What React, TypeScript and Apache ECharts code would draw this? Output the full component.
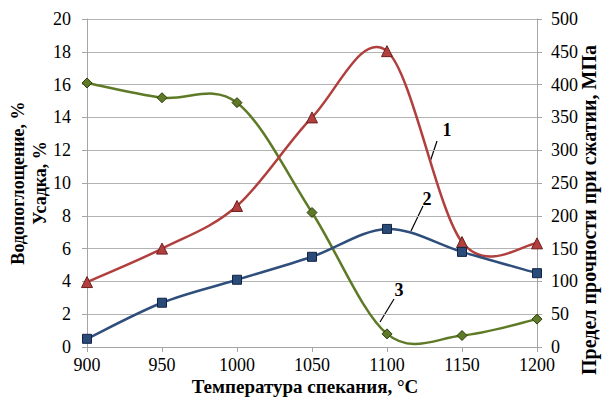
import React, { useEffect, useRef } from "react";
import * as echarts from "echarts";

const temperatures = [900, 950, 1000, 1050, 1100, 1150, 1200];
const strength = [99, 150, 215, 350, 451, 160, 158]; // MPa, right axis (1)
const shrinkage = [0.5, 2.7, 4.1, 5.5, 7.2, 5.8, 4.5]; // %, left axis (2)
const waterAbsorption = [16.1, 15.2, 14.9, 8.2, 0.8, 0.7, 1.7]; // %, left axis (3)

const FONT = "'Liberation Serif', 'Times New Roman', serif";

function smoothSeries(values: number[], yAxisIndex: number, color: string) {
  return {
    type: "custom",
    yAxisIndex,
    silent: true,
    z: 2,
    data: temperatures.map((t, i) => [t, values[i]]),
    renderItem: (params: any, api: any) => {
      const i = params.dataIndex;
      if (i >= temperatures.length - 1) return null;
      const p = (k: number) => {
        const kk = Math.max(0, Math.min(temperatures.length - 1, k));
        return api.coord([temperatures[kk], values[kk]]);
      };
      const p0 = p(i - 1), p1 = p(i), p2 = p(i + 1), p3 = p(i + 2);
      const f = 1 / 6;
      const c1 = [p1[0] + (p2[0] - p0[0]) * f, p1[1] + (p2[1] - p0[1]) * f];
      const c2 = [p2[0] - (p3[0] - p1[0]) * f, p2[1] - (p3[1] - p1[1]) * f];
      return {
        type: "path",
        shape: {
          pathData: `M${p1[0]} ${p1[1]} C${c1[0]} ${c1[1]} ${c2[0]} ${c2[1]} ${p2[0]} ${p2[1]}`,
        },
        style: { fill: "none", stroke: color, lineWidth: 2.5 },
      };
    },
  };
}

export default function App() {
  const ref = useRef<HTMLDivElement>(null);
  useEffect(() => {
    if (!ref.current) return;
    const chart = echarts.init(ref.current, null, { renderer: "svg" });
    const axisLine = { show: true, lineStyle: { color: "#a6a6a6", width: 1 } };
    const axisTick = { show: true, inside: false, length: 5, lineStyle: { color: "#a6a6a6" } };
    const tickLabel = { color: "#000", fontFamily: FONT, fontSize: 18 };
    const nameStyle = { color: "#000", fontFamily: FONT, fontSize: 20, fontWeight: "bold" as const };
    chart.setOption({
      animation: false,
      backgroundColor: "#fff",
      textStyle: { fontFamily: FONT },
      grid: { left: 87, right: 66, top: 19, bottom: 51, containLabel: false, outerBoundsMode: "none" },
      xAxis: {
        type: "value",
        min: 900,
        max: 1200,
        interval: 50,
        axisLine,
        axisTick,
        splitLine: { show: false },
        axisLabel: { ...tickLabel, lineHeight: 18, margin: 9, formatter: (v: number) => String(v) },
        name: "Температура спекания, °С",
        nameLocation: "middle",
        nameGap: 30,
        nameMoveOverlap: false,
        nameTextStyle: { ...nameStyle, fontSize: 19, lineHeight: 19, padding: [0, 14, 0, 0] },
      },
      yAxis: [
        {
          type: "value",
          min: 0,
          max: 20,
          interval: 2,
          axisLine,
          axisTick,
          splitLine: { show: true, lineStyle: { color: "#b3b3b3", width: 1 } },
          axisLabel: { ...tickLabel, margin: 16 },
          name: "Водопоглощение, %\nУсадка, %",
          nameLocation: "middle",
          nameGap: 36,
          nameMoveOverlap: false,
          nameTextStyle: { ...nameStyle, fontSize: 18, lineHeight: 22 },
        },
        {
          type: "value",
          min: 0,
          max: 500,
          interval: 50,
          position: "right",
          axisLine,
          axisTick,
          splitLine: { show: false },
          axisLabel: { ...tickLabel, margin: 14 },
        },
      ],
      series: [
        smoothSeries(waterAbsorption, 0, "#5E7A26"),
        smoothSeries(strength, 1, "#B03F3D"),
        smoothSeries(shrinkage, 0, "#2F4E7B"),
        {
          name: "3",
          type: "scatter",
          yAxisIndex: 0,
          data: temperatures.map((t, i) => [t, waterAbsorption[i]]),
          symbol: "diamond",
          symbolSize: 10,
          itemStyle: { color: "#5E7A26", borderColor: "#2c3d0e", borderWidth: 1, opacity: 1 },
          z: 3,
        },
        {
          name: "1",
          type: "scatter",
          yAxisIndex: 1,
          data: temperatures.map((t, i) => [t, strength[i]]),
          symbol: "triangle",
          symbolSize: 11,
          itemStyle: { color: "#B03F3D", borderColor: "#6e1f1e", borderWidth: 1, opacity: 1 },
          z: 4,
        },
        {
          name: "2",
          type: "scatter",
          yAxisIndex: 0,
          data: temperatures.map((t, i) => [t, shrinkage[i]]),
          symbol: "rect",
          symbolSize: 9,
          itemStyle: { color: "#2A4A78", borderColor: "#0f2444", borderWidth: 1, opacity: 1 },
          z: 5,
        },
      ],
      graphic: [
        {
          type: "text",
          x: 589,
          y: 210,
          rotation: Math.PI / 2,
          style: {
            text: "Предел прочности при сжатии, МПа",
            font: `bold 20px ${FONT}`,
            fill: "#000",
            align: "center",
            verticalAlign: "middle",
          },
        },
        { type: "line", shape: { x1: 437, y1: 141, x2: 430, y2: 162 }, style: { stroke: "#000", lineWidth: 1.2 } },
        { type: "text", x: 447, y: 130, style: { text: "1", font: `bold 18px ${FONT}`, fill: "#000", align: "center", verticalAlign: "middle" } },
        { type: "line", shape: { x1: 423, y1: 206, x2: 411, y2: 231 }, style: { stroke: "#000", lineWidth: 1.2 } },
        { type: "text", x: 427, y: 199, style: { text: "2", font: `bold 18px ${FONT}`, fill: "#000", align: "center", verticalAlign: "middle" } },
        { type: "line", shape: { x1: 394, y1: 299, x2: 380, y2: 322 }, style: { stroke: "#000", lineWidth: 1.2 } },
        { type: "text", x: 399, y: 290, style: { text: "3", font: `bold 18px ${FONT}`, fill: "#000", align: "center", verticalAlign: "middle" } },
      ],
    });
    return () => chart.dispose();
  }, []);
  return <div ref={ref} style={{ width: 603, height: 398, position: "absolute", left: 0, top: 0 }} />;
}
